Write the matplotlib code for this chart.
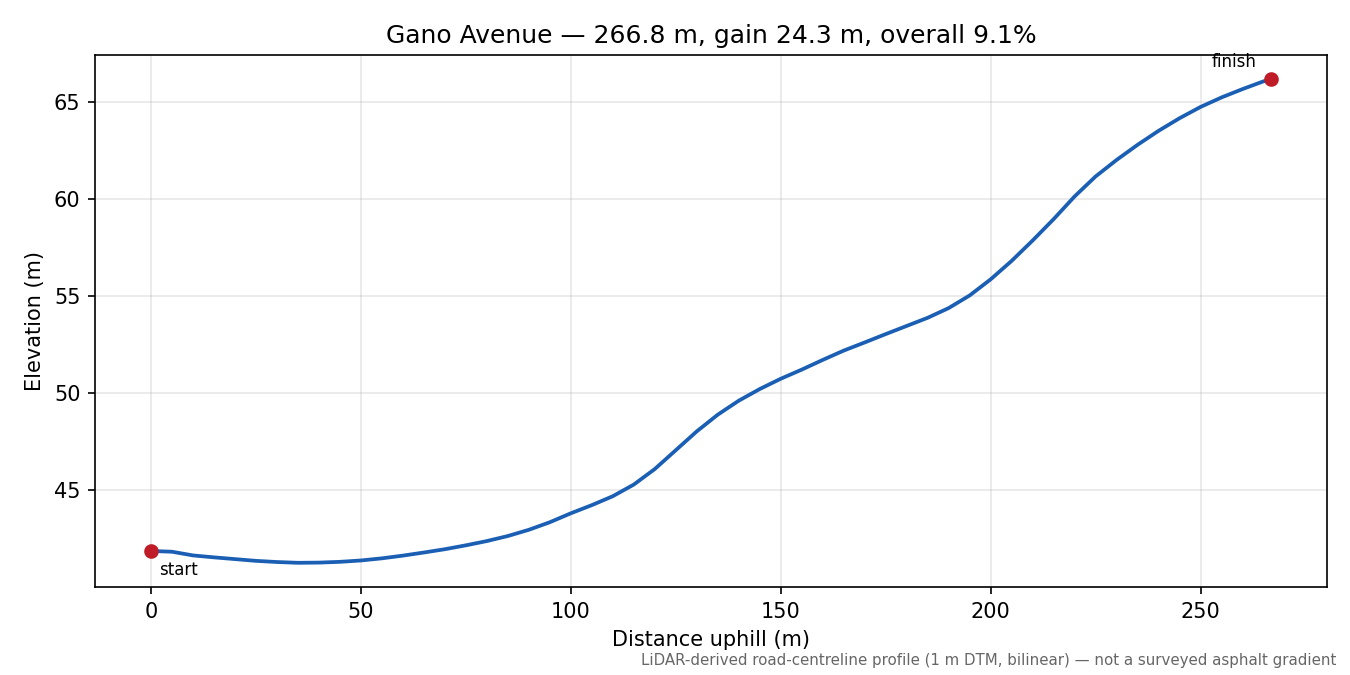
import matplotlib
matplotlib.use("Agg")
import matplotlib.pyplot as plt

# elevation profile (distance uphill in m, elevation in m)
distance = [0, 5, 10, 15, 20, 25, 30, 35, 40, 45, 50, 55, 60, 65, 70, 75, 80, 85,
            90, 95, 100, 105, 110, 115, 120, 125, 130, 135, 140, 145, 150, 155,
            160, 165, 170, 175, 180, 185, 190, 195, 200, 205, 210, 215, 220, 225,
            230, 235, 240, 245, 250, 255, 260, 265, 266.8]
elevation = [41.86, 41.82, 41.63, 41.53, 41.44, 41.35, 41.29, 41.25, 41.26, 41.30,
             41.37, 41.48, 41.62, 41.78, 41.95, 42.15, 42.37, 42.63, 42.95, 43.34,
             43.80, 44.22, 44.68, 45.28, 46.08, 47.05, 48.02, 48.88, 49.60, 50.20,
             50.73, 51.20, 51.70, 52.18, 52.60, 53.03, 53.45, 53.87, 54.37, 55.02,
             55.85, 56.80, 57.85, 58.95, 60.12, 61.15, 62.00, 62.78, 63.50, 64.15,
             64.73, 65.22, 65.65, 66.05, 66.16]

street = "Gano Avenue"
length_m = 266.8
gain_m = 24.3
overall_pct = 9.1

fig, ax = plt.subplots(figsize=(9, 4.5), dpi=150)
ax.plot(distance, elevation, color="#1a5fb4", linewidth=1.8)
ax.plot([distance[0], distance[-1]], [elevation[0], elevation[-1]], "o",
        color="#c01c28", markersize=6, zorder=3)

ax.annotate("start", (distance[0], elevation[0]), xytext=(4, -5),
            textcoords="offset points", ha="left", va="top", fontsize=8)
ax.annotate("finish", (distance[-1], elevation[-1]), xytext=(-7, 4),
            textcoords="offset points", ha="right", va="bottom", fontsize=8)

ax.set_title(f"{street} \u2014 {length_m} m, gain {gain_m} m, overall {overall_pct}%")
ax.set_xlabel("Distance uphill (m)")
ax.set_ylabel("Elevation (m)")
ax.grid(True, alpha=0.3)

fig.text(0.99, 0.011,
         "LiDAR-derived road-centreline profile (1 m DTM, bilinear) \u2014 not a surveyed asphalt gradient",
         ha="right", va="bottom", fontsize=7.2, color="#666666")

plt.subplots_adjust(left=0.0704, right=0.983, top=0.9185, bottom=0.1304)
plt.savefig("out.png")
